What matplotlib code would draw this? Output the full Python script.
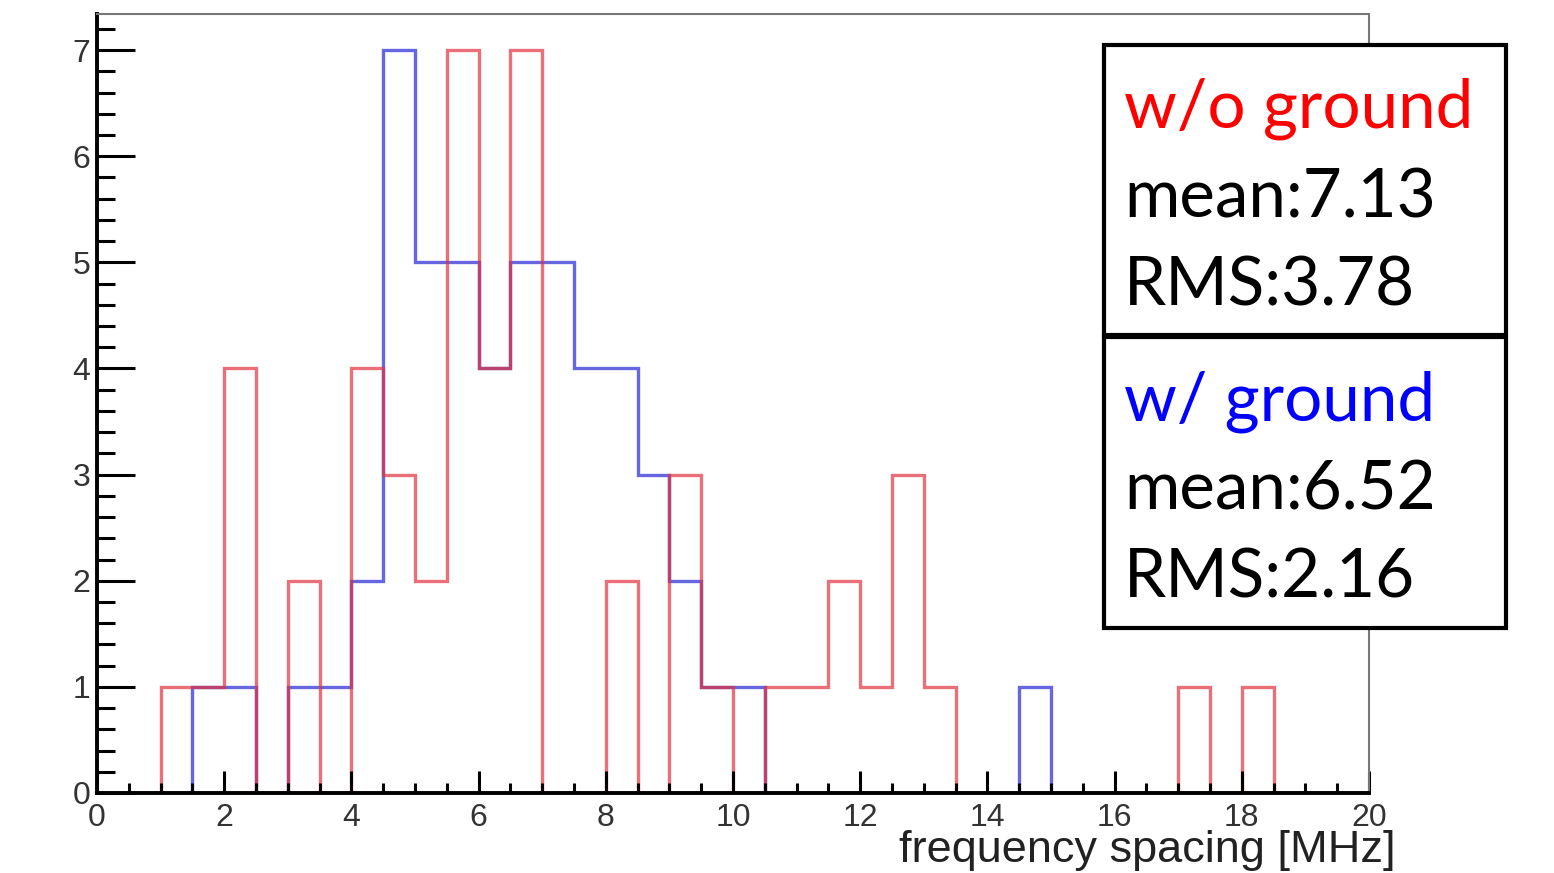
import numpy as np
import matplotlib
matplotlib.use('Agg')
import matplotlib.pyplot as plt
from matplotlib.patches import Rectangle
from matplotlib.ticker import MultipleLocator

W, H = 1554, 873

# 0.5 MHz bins from 0 to 20
edges = np.arange(0, 20.01, 0.5)

# w/o ground (red), counts per bin
red_counts = [0, 0, 1, 1, 4, 0, 2, 0, 4, 3,
              2, 7, 4, 7, 0, 0, 2, 0, 3, 1,
              0, 1, 1, 2, 1, 3, 1, 0, 0, 0,
              0, 0, 0, 0, 1, 0, 1, 0, 0, 0]
# w/ ground (blue), counts per bin
blue_counts = [0, 0, 0, 1, 1, 0, 1, 1, 2, 7,
               5, 5, 4, 5, 5, 4, 4, 3, 2, 1,
               1, 0, 0, 0, 0, 0, 0, 0, 0, 1,
               0, 0, 0, 0, 0, 0, 0, 0, 0, 0]

legend_red = ["w/o ground", "mean:7.13", "RMS:3.78"]
legend_blue = ["w/ ground", "mean:6.52", "RMS:2.16"]

fig = plt.figure(figsize=(W / 100, H / 100), dpi=100)
ax = fig.add_axes([97 / W, 1 - 793 / H, (1369 - 97) / W, (793 - 14) / H])

ax.stairs(blue_counts, edges, baseline=0, color=(0.25, 0.25, 0.85), lw=2.4, alpha=0.8)
ax.stairs(red_counts, edges, baseline=0, color=(0.88, 0.2, 0.25), lw=2.4, alpha=0.7)

ax.set_xlim(0, 20)
ax.set_ylim(0, 7.34)

ax.xaxis.set_major_locator(MultipleLocator(2))
ax.xaxis.set_minor_locator(MultipleLocator(0.5))
ax.yaxis.set_major_locator(MultipleLocator(1))
ax.yaxis.set_minor_locator(MultipleLocator(0.2))

ax.tick_params(axis='y', which='major', direction='in', length=27, width=2.2,
               labelsize=23, labelcolor='#333333', pad=5)
ax.tick_params(axis='y', which='minor', direction='in', length=13, width=2.2)
ax.tick_params(axis='x', which='major', direction='in', length=16, width=2.2,
               labelsize=23, labelcolor='#333333', pad=7)
ax.tick_params(axis='x', which='minor', direction='in', length=7, width=2.2)
for lab in ax.get_xticklabels() + ax.get_yticklabels():
    lab.set_family('Liberation Sans')

for s in ['left', 'bottom']:
    ax.spines[s].set_linewidth(2.8)
    ax.spines[s].set_color('black')
for s in ['top', 'right']:
    ax.spines[s].set_linewidth(1.5)
    ax.spines[s].set_color('#777777')

# sits at the bottom edge like in the original, kept just inside
fig.text(1396 / W, 1 - 862 / H, "frequency spacing [MHz]", ha='right', va='baseline',
         fontsize=32.5, family='Liberation Sans', color='#222222')

# legend boxes (pixel coordinates)
def px_box(x0, y0, x1, y1):
    r = Rectangle((x0 / W, 1 - y1 / H), (x1 - x0) / W, (y1 - y0) / H,
                  transform=fig.transFigure, facecolor='white', edgecolor='black',
                  lw=3, zorder=5)
    fig.add_artist(r)

px_box(1104, 45, 1506, 335)
px_box(1104, 337, 1506, 628)

def px_text(x, y, s, color):
    fig.text(x / W, 1 - y / H, s, ha='left', va='baseline', fontsize=48.5,
             family='Lato', color=color, zorder=6)

for i, s in enumerate(legend_red):
    px_text(1124, 128 + 89 * i, s, 'red' if i == 0 else 'black')
for i, s in enumerate(legend_blue):
    px_text(1124, 420 + 89 * i, s, 'blue' if i == 0 else 'black')

fig.savefig('out.png', dpi=100)
